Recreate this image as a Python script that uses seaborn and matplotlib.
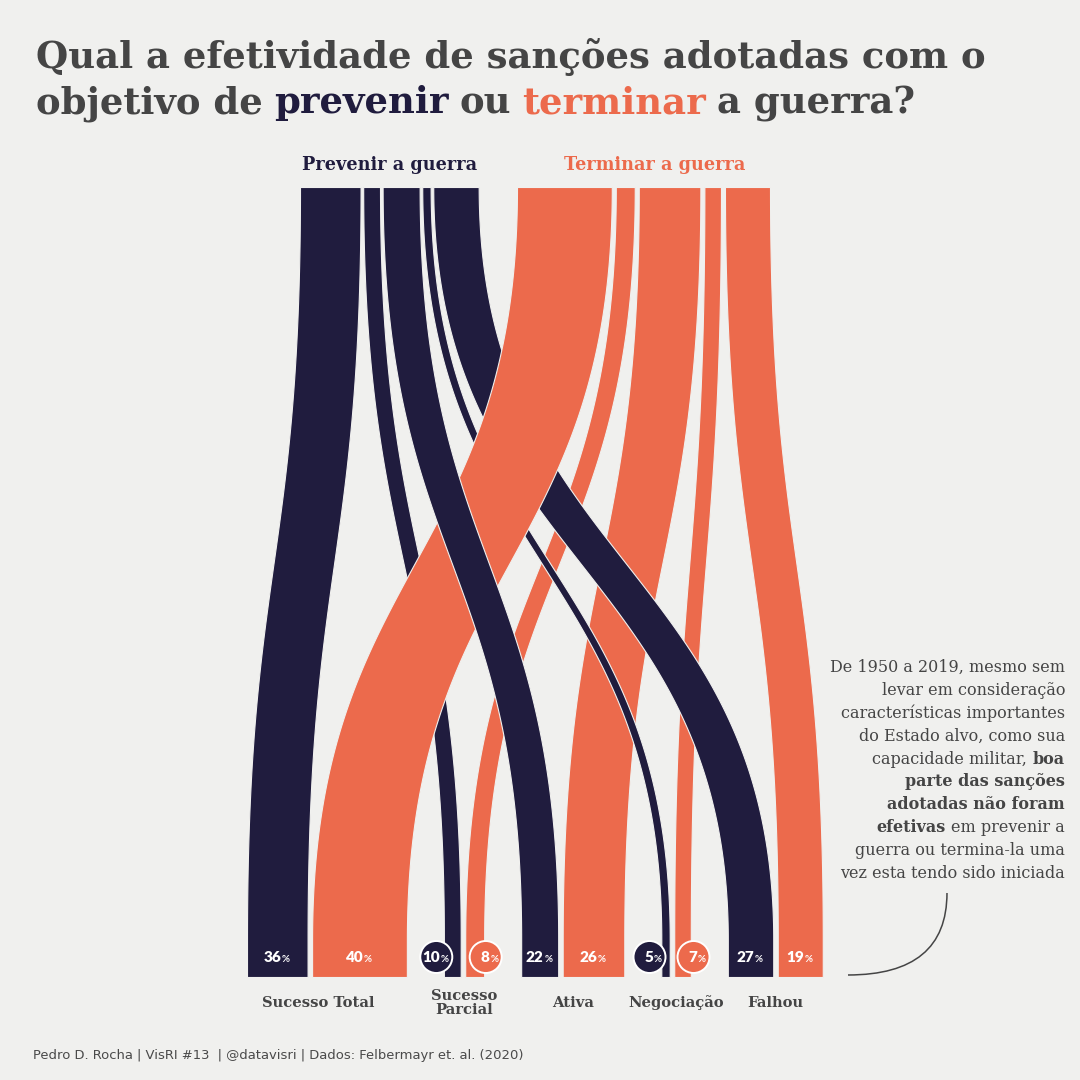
import numpy as np
import matplotlib
matplotlib.use("Agg")
import matplotlib.pyplot as plt
from matplotlib import font_manager
from matplotlib.patches import Circle, PathPatch
from matplotlib.path import Path
import seaborn as sns

# data
categories = ["Sucesso Total", "Sucesso\nParcial", "Ativa", "Negociação", "Falhou"]
groups = ["Prevenir a guerra", "Terminar a guerra"]
prevenir_pct = [36, 10, 22, 5, 27]
terminar_pct = [40, 8, 26, 7, 19]
group_weight = [0.71, 1.0]  # relative number of sanctions -> band width

NAVY = "#201c3e"
ORANGE = "#ec6a4c"
BG = "#f0f0ee"
GRAY = "#454545"
colors = [NAVY, ORANGE]

sns.set_theme(style="white", rc={"figure.facecolor": BG, "axes.facecolor": BG})

names = {f.name for f in font_manager.fontManager.ttflist}


def pick(*cands):
    for c in cands:
        if c in names:
            return c
    return "DejaVu Sans"


SERIF = pick("DejaVu Serif Condensed", "DejaVu Serif")
NARROW = pick("DejaVu Sans Condensed", "Liberation Sans Narrow", "DejaVu Sans")
NUM = pick("Lato", "DejaVu Sans")

fig = plt.figure(figsize=(10.8, 10.8), dpi=100)
ax = fig.add_axes([0, 0, 1, 1])
ax.set_xlim(0, 1080)
ax.set_ylim(1080, 0)
ax.set_axis_off()
renderer = fig.canvas.get_renderer()


def text_w(t):
    return t.get_window_extent(renderer=renderer).width


def fit_size(s, target, **kw):
    t = ax.text(0, 0, s, fontsize=10, **kw)
    w = text_w(t)
    t.remove()
    return 10 * target / w


def seg_text(x, y, parts, size, ha="left", space=0.3, **kw):
    # parts: list of (text, props); drawn one after another, separated by a space
    sp = size * 100 / 72 * space
    items = parts if ha == "left" else parts[::-1]
    for txt, props in items:
        t = ax.text(x, y, txt, ha=ha, va="baseline", fontsize=size, **kw, **props)
        w = text_w(t)
        x = x + w + sp if ha == "left" else x - w - sp


# layout
px_per_pct = 2.37
top_y, curve_end, bottom_y = 187, 940, 977
top_start = [300, 517]
top_gap = [2.6, 4.0]
bottom_start = 247
pair_gap, cat_gap = 4.5, 37

values = [prevenir_pct, terminar_pct]
widths = [[v * group_weight[g] * px_per_pct for v in values[g]] for g in range(2)]

top_left = []
for g in range(2):
    xs, x = [], top_start[g]
    for w in widths[g]:
        xs.append(x)
        x += w + top_gap[g]
    top_left.append(xs)

bot_left = [[0] * 5, [0] * 5]
cat_center = []
x = bottom_start
for c in range(5):
    x0 = x
    for g in range(2):
        bot_left[g][c] = x
        x += widths[g][c] + (pair_gap if g == 0 else 0)
    cat_center.append((x0 + x) / 2)
    x += cat_gap

# bezier flow
t = np.linspace(0, 1, 200)
k = 0.5
H = curve_end - top_y
yb = top_y + H * (3 * t * (1 - t) ** 2 * k + 3 * t ** 2 * (1 - t) * (1 - k) + t ** 3)
sb = 3 * t ** 2 * (1 - t) + t ** 3
yy = np.concatenate([yb, [bottom_y]])
ss = np.concatenate([sb, [1.0]])

zorders = {(1, c): 1 for c in range(5)}
zorders.update({(0, 4): 2, (0, 3): 2, (0, 1): 2, (1, 0): 3, (0, 2): 4, (0, 0): 4})

for g in range(2):
    for c in range(5):
        x0, x1 = top_left[g][c], bot_left[g][c]
        w = widths[g][c]
        xl = x0 + (x1 - x0) * ss
        ax.fill_betweenx(yy, xl, xl + w, color=colors[g], ec=BG, lw=0.8,
                         zorder=zorders[(g, c)])

# percent labels
lab_y = 957
for g in range(2):
    for c in range(5):
        w = widths[g][c]
        cx = bot_left[g][c] + w / 2
        if w < 25:
            cx = cx - 16 if g == 0 else cx + 11
            ax.add_patch(Circle((cx, lab_y), 16, fc=colors[g], ec="white", lw=1.4, zorder=6))
        ax.text(cx + 4, lab_y, str(values[g][c]), ha="right", va="center", color="white",
                fontsize=11, fontweight="heavy", family=NUM, zorder=7)
        ax.text(cx + 4.5, lab_y + 2, "%", ha="left", va="center", color="white",
                fontsize=7, fontweight="bold", family=NUM, zorder=7)

# category labels
cat_size = fit_size("Sucesso Total", 113, family=SERIF, fontweight="bold")
for c, name in enumerate(categories):
    ax.text(cat_center[c] - (9 if c == 0 else 0), 1003, name, ha="center", va="center",
            fontsize=cat_size, fontweight="bold", family=SERIF, color=GRAY, linespacing=1.0)

# group labels
grp_size = fit_size(groups[0], 175, family=SERIF, fontweight="bold")
for g in range(2):
    gx = (top_start[g] + top_left[g][-1] + widths[g][-1]) / 2 + (0 if g == 0 else 11)
    ax.text(gx, 165, groups[g], ha="center", va="center", fontsize=grp_size,
            fontweight="bold", family=SERIF, color=colors[g])

# title
title1 = "Qual a efetividade de sanções adotadas com o"
tsize = fit_size(title1, 956, family=SERIF, fontweight="bold")
ax.text(36, 68, title1, ha="left", va="baseline", fontsize=tsize, family=SERIF,
        fontweight="bold", color=GRAY)
seg_text(36, 113, [("objetivo de", {"color": GRAY}), ("prevenir", {"color": NAVY}),
                   ("ou", {"color": GRAY}), ("terminar", {"color": ORANGE}),
                   ("a guerra?", {"color": GRAY})],
         tsize, family=SERIF, fontweight="bold")

# annotation
R = {"fontweight": "normal", "color": GRAY}
Bd = {"fontweight": "bold", "color": GRAY}
note = [
    [("De 1950 a 2019, mesmo sem", R)],
    [("levar em consideração", R)],
    [("características importantes", R)],
    [("do Estado alvo, como sua", R)],
    [("capacidade militar,", R), ("boa", Bd)],
    [("parte das sanções", Bd)],
    [("adotadas não foram", Bd)],
    [("efetivas", Bd), ("em prevenir a", R)],
    [("guerra ou termina-la uma", R)],
    [("vez esta tendo sido iniciada", R)],
]
nsize = fit_size("características importantes", 225, family=SERIF)
for i, line in enumerate(note):
    seg_text(1065, 672 + i * 22.9, line, nsize, ha="right", space=0.35, family=SERIF)

# connector
path = Path([(947, 893), (947, 975), (848, 975)], [Path.MOVETO, Path.CURVE3, Path.CURVE3])
ax.add_patch(PathPatch(path, fc="none", ec=GRAY, lw=1.1))

# footer
foot = "Pedro D. Rocha | VisRI #13  | @datavisri | Dados: Felbermayr et. al. (2020)"
fsize = fit_size(foot, 489, family=NARROW)
ax.text(33, 1055, foot, ha="left", va="center", fontsize=fsize, family=NARROW, color="#4a4a4a")

fig.savefig("out.png", dpi=100, facecolor=BG)
